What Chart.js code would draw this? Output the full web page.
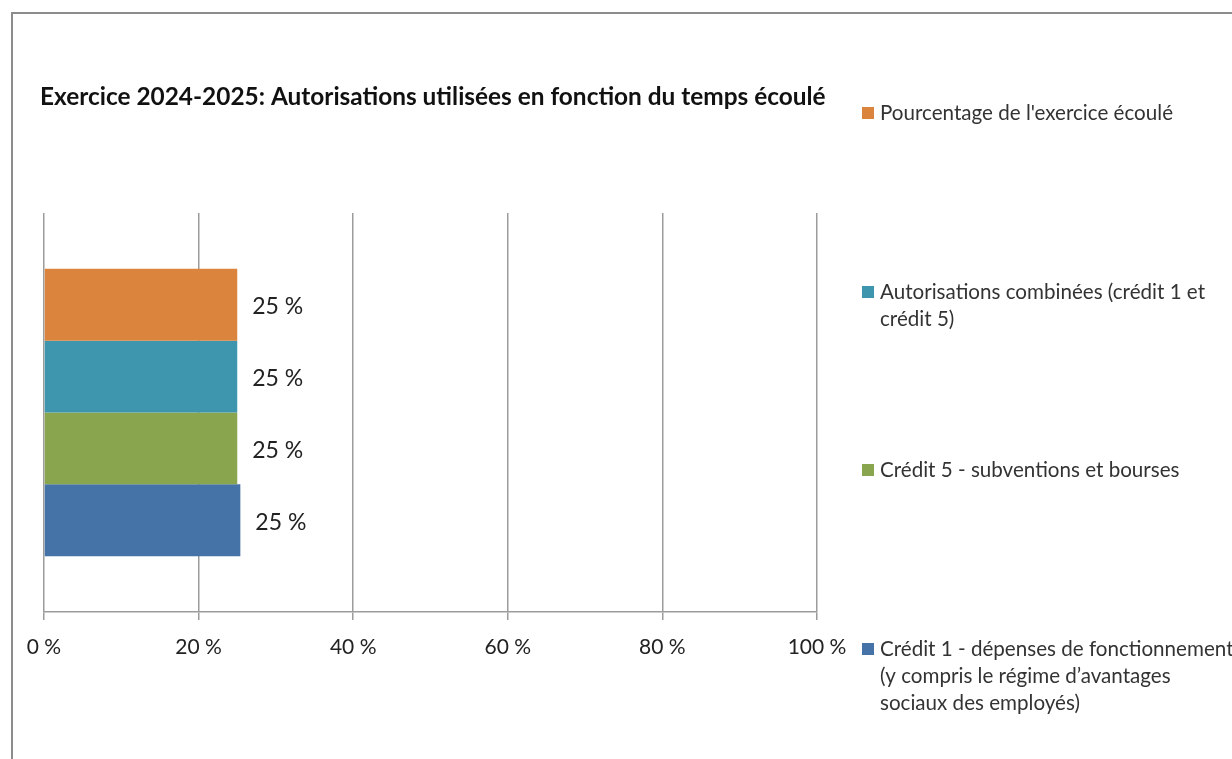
<!DOCTYPE html>
<html lang="fr">
<head>
<meta charset="utf-8">
<title>Exercice 2024-2025</title>
<script src="https://cdn.jsdelivr.net/npm/chart.js@4"></script>
<style>
    html, body { margin: 0; padding: 0; background: #fff; overflow: hidden; }
    #wrap { position: relative; width: 1232px; height: 759px; }
    #frame { position: absolute; left: 11px; top: 12px; width: 1400px; height: 900px;
             border-left: 2px solid #8c8c8c; border-top: 2px solid #8c8c8c; }
    canvas { position: absolute; left: 0; top: 0; }
</style>
</head>
<body>
<div id="wrap">
    <div id="frame"></div>
    <canvas id="myChart" width="1232" height="759"></canvas>
</div>
<script>
    // values
    const chartTitle = "Exercice 2024-2025: Autorisations utilisées en fonction du temps écoulé";
    const categories = [""];
    const seriesNames = [
        ["Pourcentage de l'exercice écoulé"],
        ["Autorisations combinées (crédit 1 et", "crédit 5)"],
        ["Crédit 5 - subventions et bourses"],
        ["Crédit 1 - dépenses de fonctionnement", "(y compris le régime d\u2019avantages", "sociaux des employés)"]
    ];
    const seriesValues = [25, 25, 25, 25.4];
    const seriesColors = ["#DB843D", "#3D96AE", "#89A54E", "#4572A7"];
    const tickValues = [0, 20, 40, 60, 80, 100];

    const FONT = "Lato, 'Open Sans', sans-serif";

    // "25 %" labels at the end of each bar
    const barLabels = {
        id: "barLabels",
        afterDatasetsDraw: function (chart) {
            const ctx = chart.ctx;
            ctx.save();
            ctx.font = "23px " + FONT;
            ctx.fillStyle = "#222";
            ctx.textBaseline = "middle";
            chart.data.datasets.forEach(function (ds, i) {
                const bar = chart.getDatasetMeta(i).data[0];
                ctx.fillText(Math.round(ds.data[0]) + " %", bar.x + 15, bar.y + 2);
            });
            ctx.restore();
        }
    };

    // title and the spread-out legend on the right
    const titleAndLegend = {
        id: "titleAndLegend",
        afterDraw: function (chart) {
            const ctx = chart.ctx;
            ctx.save();
            ctx.fillStyle = "#111";
            ctx.textBaseline = "middle";
            ctx.font = "bold 24.4px " + FONT;
            ctx.fillText(chartTitle, 40, 97);

            ctx.font = "20.6px " + FONT;
            const legendTop = [113, 292, 470, 649];
            seriesNames.forEach(function (lines, i) {
                ctx.fillStyle = seriesColors[i];
                ctx.fillRect(862, legendTop[i] - 6, 12, 12);
                ctx.fillStyle = "#333";
                lines.forEach(function (line, j) {
                    ctx.fillText(line, 880, legendTop[i] + j * 27);
                });
            });
            ctx.restore();
        }
    };

    new Chart(document.getElementById("myChart"), {
        type: "bar",
        data: {
            labels: categories,
            datasets: seriesValues.map(function (v, i) {
                return {
                    label: seriesNames[i].join(" "),
                    data: [v],
                    backgroundColor: seriesColors[i],
                    borderWidth: 0
                };
            })
        },
        options: {
            indexAxis: "y",
            responsive: false,
            animation: false,
            devicePixelRatio: 1,
            layout: { padding: { left: 44, right: 415, top: 213, bottom: 87 } },
            datasets: {
                bar: { categoryPercentage: 0.72, barPercentage: 1 }
            },
            plugins: {
                legend: { display: false },
                title: { display: false },
                tooltip: { enabled: false }
            },
            scales: {
                x: {
                    min: 0,
                    max: 100,
                    afterBuildTicks: function (scale) {
                        scale.ticks = tickValues.map(function (v) { return { value: v }; });
                    },
                    afterFit: function (scale) { scale.height = 60; },
                    grid: { color: "#9c9c9c", lineWidth: 1.5, tickLength: 8 },
                    border: { display: true, color: "#9c9c9c", width: 1.5 },
                    ticks: {
                        padding: 15,
                        color: "#222",
                        font: { family: FONT, size: 21 },
                        maxRotation: 0,
                        callback: function (value) { return value + " %"; }
                    }
                },
                y: {
                    display: false
                }
            }
        },
        plugins: [barLabels, titleAndLegend]
    });
</script>
</body>
</html>
